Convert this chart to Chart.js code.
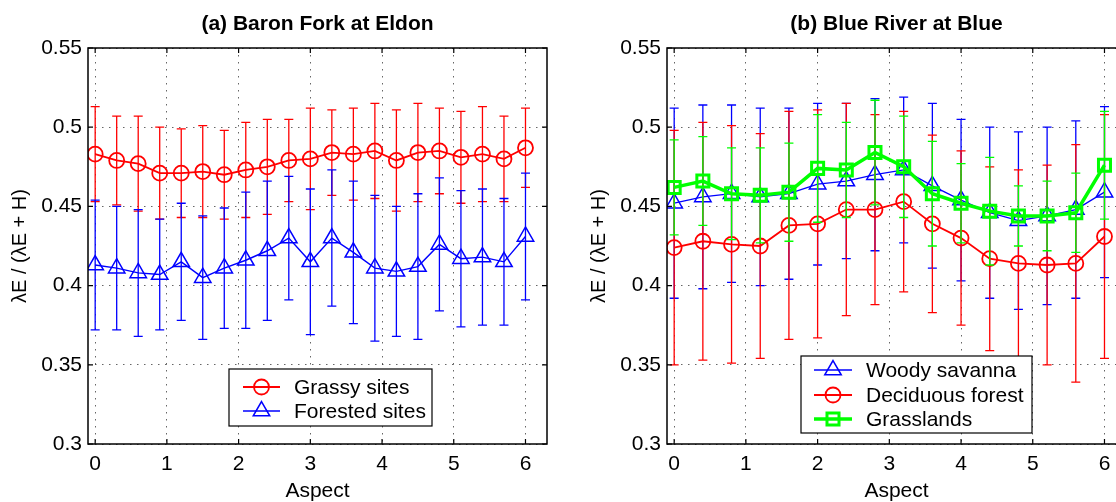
<!DOCTYPE html>
<html>
<head>
<meta charset="utf-8">
<script src="https://cdn.jsdelivr.net/npm/chart.js@4.4.0/dist/chart.umd.min.js"></script>
<style>
html, body { margin: 0; padding: 0; background: #fff; overflow: hidden; width: 1116px; height: 502px; }
.panel { position: absolute; top: 0; width: 560px; height: 502px; }
#panelA { left: 0; }
#panelB { left: 579px; }
</style>
</head>
<body>
<div class="panel" id="panelA"><canvas id="chartA" width="560" height="502"></canvas></div>
<div class="panel" id="panelB"><canvas id="chartB" width="560" height="502"></canvas></div>
<script>
// tick labels
const xTicks = [0, 1, 2, 3, 4, 5, 6];
const yTicks = [0.3, 0.35, 0.4, 0.45, 0.5, 0.55];

// (a) Baron Fork at Eldon
const aspectA = [0, 0.3, 0.6, 0.9, 1.2, 1.5, 1.8, 2.1, 2.4, 2.7, 3.0, 3.3, 3.6, 3.9, 4.2, 4.5, 4.8, 5.1, 5.4, 5.7, 6.0];
const grassyMean = [0.483, 0.479, 0.477, 0.471, 0.471, 0.472, 0.470, 0.473, 0.475, 0.479, 0.480, 0.484, 0.483, 0.485, 0.479, 0.484, 0.485, 0.481, 0.483, 0.480, 0.487];
const grassyErr = [0.030, 0.028, 0.030, 0.029, 0.028, 0.029, 0.028, 0.030, 0.030, 0.026, 0.032, 0.027, 0.029, 0.030, 0.032, 0.031, 0.027, 0.029, 0.030, 0.027, 0.025];
const forestedMean = [0.413, 0.411, 0.408, 0.407, 0.415, 0.405, 0.411, 0.416, 0.422, 0.430, 0.415, 0.430, 0.421, 0.411, 0.409, 0.412, 0.426, 0.417, 0.418, 0.415, 0.431];
const forestedErr = [0.041, 0.039, 0.040, 0.035, 0.037, 0.039, 0.038, 0.043, 0.044, 0.039, 0.046, 0.043, 0.045, 0.046, 0.041, 0.046, 0.042, 0.043, 0.043, 0.040, 0.040];

// (b) Blue River at Blue
const aspectB = [0, 0.4, 0.8, 1.2, 1.6, 2.0, 2.4, 2.8, 3.2, 3.6, 4.0, 4.4, 4.8, 5.2, 5.6, 6.0];
const woodyMean = [0.452, 0.456, 0.458, 0.456, 0.458, 0.464, 0.466, 0.470, 0.473, 0.463, 0.454, 0.446, 0.441, 0.444, 0.448, 0.459];
const woodyErr = [0.060, 0.058, 0.056, 0.056, 0.054, 0.051, 0.049, 0.048, 0.046, 0.052, 0.051, 0.054, 0.056, 0.056, 0.056, 0.054];
const deciduousMean = [0.424, 0.428, 0.426, 0.425, 0.438, 0.439, 0.448, 0.448, 0.453, 0.439, 0.430, 0.417, 0.414, 0.413, 0.414, 0.431];
const deciduousErr = [0.074, 0.075, 0.075, 0.071, 0.072, 0.072, 0.067, 0.060, 0.057, 0.056, 0.055, 0.058, 0.059, 0.063, 0.075, 0.077];
const grassMean = [0.462, 0.466, 0.458, 0.457, 0.459, 0.474, 0.473, 0.484, 0.475, 0.458, 0.452, 0.447, 0.444, 0.444, 0.446, 0.476];
const grassErr = [0.030, 0.028, 0.029, 0.030, 0.031, 0.034, 0.030, 0.033, 0.032, 0.033, 0.025, 0.034, 0.019, 0.022, 0.025, 0.034];

const FONT = "'Liberation Sans', Arial, Helvetica, sans-serif";
const RED = '#ff0000', BLUE = '#0000ff', GREEN = '#00ff00';

// vertical error bars with caps, drawn just under each dataset
const errorBars = {
  id: 'errorBars',
  beforeDatasetDraw(chart, args) {
    const ds = chart.data.datasets[args.index];
    const y = chart.scales.y;
    const ctx = chart.ctx;
    const cap = 4.5;
    ctx.save();
    ctx.strokeStyle = ds.borderColor;
    ctx.lineWidth = ds.barWidth;
    ctx.beginPath();
    args.meta.data.forEach((pt, i) => {
      const v = ds.data[i].y, e = ds.errors[i];
      const top = y.getPixelForValue(v + e), bot = y.getPixelForValue(v - e);
      ctx.moveTo(pt.x, top); ctx.lineTo(pt.x, bot);
      ctx.moveTo(pt.x - cap, top); ctx.lineTo(pt.x + cap, top);
      ctx.moveTo(pt.x - cap, bot); ctx.lineTo(pt.x + cap, bot);
    });
    ctx.stroke();
    ctx.restore();
  }
};

// matlab style box with inward ticks on all sides
const frame = {
  id: 'frame',
  afterDatasetsDraw(chart) {
    const { ctx, chartArea: a, scales } = chart;
    ctx.save();
    ctx.strokeStyle = '#000';
    ctx.lineWidth = 1.5;
    ctx.strokeRect(a.left, a.top, a.right - a.left, a.bottom - a.top);
    ctx.lineWidth = 1.2;
    const t = 5;
    ctx.beginPath();
    xTicks.forEach(v => {
      const x = scales.x.getPixelForValue(v);
      ctx.moveTo(x, a.bottom); ctx.lineTo(x, a.bottom - t);
      ctx.moveTo(x, a.top); ctx.lineTo(x, a.top + t);
    });
    yTicks.forEach(v => {
      const y = scales.y.getPixelForValue(v);
      ctx.moveTo(a.left, y); ctx.lineTo(a.left + t, y);
      ctx.moveTo(a.right, y); ctx.lineTo(a.right - t, y);
    });
    ctx.stroke();
    ctx.restore();
  }
};

// legend box inside the axes
const boxLegend = {
  id: 'boxLegend',
  afterDraw(chart, args, o) {
    const ctx = chart.ctx;
    ctx.save();
    ctx.fillStyle = '#fff';
    ctx.fillRect(o.box[0], o.box[1], o.box[2], o.box[3]);
    ctx.strokeStyle = '#000';
    ctx.lineWidth = 1.2;
    ctx.strokeRect(o.box[0], o.box[1], o.box[2], o.box[3]);
    chart.data.datasets.forEach((ds, i) => {
      const y = o.rows[i];
      ctx.strokeStyle = ds.borderColor;
      ctx.lineWidth = ds.borderWidth;
      ctx.beginPath();
      ctx.moveTo(o.sample[0], y); ctx.lineTo(o.sample[1], y);
      ctx.stroke();
      ctx.fillStyle = 'rgba(0,0,0,0)';
      ctx.lineWidth = ds.pointBorderWidth;
      Chart.helpers.drawPoint(ctx, { pointStyle: ds.pointStyle, radius: ds.pointRadius, borderWidth: ds.pointBorderWidth, rotation: 0 },
        (o.sample[0] + o.sample[1]) / 2, y);
      ctx.fillStyle = '#000';
      ctx.font = '21px ' + FONT;
      ctx.textAlign = 'left';
      ctx.textBaseline = 'middle';
      ctx.fillText(ds.label, o.textX, y + 1);
    });
    ctx.restore();
  }
};

// bold title centred over the axes
const panelTitle = {
  id: 'panelTitle',
  afterDraw(chart, args, o) {
    const { ctx, chartArea: a } = chart;
    ctx.save();
    ctx.fillStyle = '#000';
    ctx.font = 'bold 21px ' + FONT;
    ctx.textAlign = 'center';
    ctx.textBaseline = 'middle';
    ctx.fillText(o.text, (a.left + a.right) / 2, 24);
    ctx.restore();
  }
};

function buildChart(id, title, xs, series, legend) {
  return new Chart(document.getElementById(id), {
    type: 'scatter',
    data: {
      datasets: series.map(s => ({
        label: s.label,
        data: xs.map((x, i) => ({ x: x, y: s.mean[i] })),
        errors: s.err,
        showLine: true,
        borderColor: s.color,
        backgroundColor: 'rgba(0,0,0,0)',
        borderWidth: s.lineWidth,
        pointStyle: s.marker,
        pointRadius: s.radius,
        pointBorderWidth: s.markerWidth,
        pointBorderColor: s.color,
        pointBackgroundColor: 'rgba(0,0,0,0)',
        barWidth: s.barWidth,
        order: s.order
      }))
    },
    options: {
      responsive: false,
      animation: false,
      events: [],
      layout: { padding: { top: 48, right: 13, left: 0, bottom: 0 } },
      scales: {
        x: {
          type: 'linear',
          min: -0.1,
          max: 6.3,
          afterBuildTicks: s => { s.ticks = xTicks.map(v => ({ value: v })); },
          afterFit: s => { s.height = 58; },
          ticks: { font: { family: FONT, size: 21 }, color: '#000', padding: 8, maxRotation: 0, callback: v => String(v) },
          grid: { color: 'rgba(0,0,0,0.6)', lineWidth: 1, drawTicks: false },
          border: { display: false, dash: [1.5, 5.5] },
          title: { display: true, text: 'Aspect', color: '#000', font: { family: FONT, size: 21, lineHeight: 1 }, padding: { top: 0, bottom: 0 } }
        },
        y: {
          type: 'linear',
          min: 0.3,
          max: 0.55,
          afterBuildTicks: s => { s.ticks = yTicks.map(v => ({ value: v })); },
          afterFit: s => { s.width = 88; },
          ticks: { font: { family: FONT, size: 21 }, color: '#000', padding: 6, callback: v => String(v) },
          grid: { color: 'rgba(0,0,0,0.6)', lineWidth: 1, drawTicks: false },
          border: { display: false, dash: [1.5, 5.5] },
          title: { display: true, text: 'λE / (λE + H)', color: '#000', font: { family: FONT, size: 20, lineHeight: 1 }, padding: { top: 10, bottom: 0 } }
        }
      },
      plugins: {
        legend: { display: false },
        tooltip: { enabled: false },
        boxLegend: legend,
        panelTitle: { text: title }
      }
    },
    plugins: [errorBars, frame, boxLegend, panelTitle]
  });
}

buildChart('chartA', '(a) Baron Fork at Eldon', aspectA, [
  { label: 'Grassy sites', mean: grassyMean, err: grassyErr, color: RED, marker: 'circle', radius: 7.5, markerWidth: 1.8, lineWidth: 1.8, barWidth: 1.3, order: 1 },
  { label: 'Forested sites', mean: forestedMean, err: forestedErr, color: BLUE, marker: 'triangle', radius: 9.5, markerWidth: 1.5, lineWidth: 1.4, barWidth: 1.3, order: 0 }
], { box: [229, 369, 203, 57], sample: [243, 280], textX: 294, rows: [387, 411] });

buildChart('chartB', '(b) Blue River at Blue', aspectB, [
  { label: 'Woody savanna', mean: woodyMean, err: woodyErr, color: BLUE, marker: 'triangle', radius: 9.5, markerWidth: 1.5, lineWidth: 1.3, barWidth: 1.3, order: 2 },
  { label: 'Deciduous forest', mean: deciduousMean, err: deciduousErr, color: RED, marker: 'circle', radius: 7.5, markerWidth: 1.8, lineWidth: 1.8, barWidth: 1.3, order: 1 },
  { label: 'Grasslands', mean: grassMean, err: grassErr, color: GREEN, marker: 'rect', radius: 8.5, markerWidth: 3, lineWidth: 3.5, barWidth: 1.3, order: 0 }
], { box: [222, 356, 231, 77], sample: [235, 273], textX: 287, rows: [370, 395, 419] });
</script>
</body>
</html>
